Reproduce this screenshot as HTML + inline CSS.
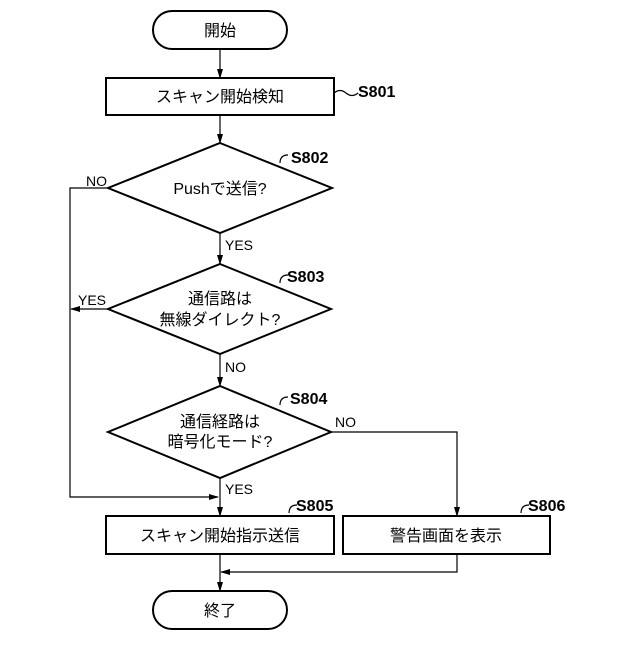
<!DOCTYPE html><html><head><style>body{margin:0;background:#fff}</style></head><body>
<svg width="640" height="640" xmlns="http://www.w3.org/2000/svg" font-family="'Liberation Sans','Noto Sans CJK JP',sans-serif">
<defs><marker id="a" markerWidth="10" markerHeight="10" refX="9" refY="5" orient="auto" markerUnits="userSpaceOnUse"><path d="M0,2 L10,5 L0,8Z" fill="#000"/></marker></defs>
<g fill="none" stroke="#000" stroke-width="2">
<rect x="153" y="11" width="134" height="38" rx="19"/>
<rect x="106" y="78" width="228" height="37"/>
<polygon points="220,143 332,188 220,233 108,188"/>
<polygon points="220,264 331,309 220,354 108,309"/>
<polygon points="220,386 331,432 220,478 108,432"/>
<rect x="106" y="516" width="228" height="38"/>
<rect x="343" y="516" width="207" height="38"/>
<rect x="153" y="591" width="134" height="38" rx="19"/>
</g>
<g fill="none" stroke="#000" stroke-width="1.2">
<line x1="220" y1="49" x2="220" y2="78" marker-end="url(#a)"/>
<line x1="220" y1="115" x2="220" y2="143" marker-end="url(#a)"/>
<line x1="220" y1="233" x2="220" y2="264" marker-end="url(#a)"/>
<line x1="220" y1="354" x2="220" y2="386" marker-end="url(#a)"/>
<line x1="220" y1="478" x2="220" y2="516" marker-end="url(#a)"/>
<polyline points="108,188 70,188 70,497 218,497" marker-end="url(#a)"/>
<line x1="108" y1="309" x2="71" y2="309" marker-end="url(#a)"/>
<polyline points="331,432 457,432 457,516" marker-end="url(#a)"/>
<polyline points="457,554 457,572 221,572" marker-end="url(#a)"/>
<line x1="220" y1="554" x2="220" y2="591" marker-end="url(#a)"/>
<path d="M334,93 q6,-5 12,0 t12,0"/>
<path d="M280,163 q0,-8 8,-8"/>
<path d="M280,283 q0,-8 8,-8"/>
<path d="M280,405 q0,-8 8,-8"/>
<path d="M289,513 q0,-8 8,-8"/>
<path d="M521,513 q0,-8 8,-8"/>
</g>
<g font-size="16" text-anchor="middle" fill="#000">
<text x="220" y="36">開始</text>
<text x="220" y="102">スキャン開始検知</text>
<text x="220" y="194">Pushで送信?</text>
<text x="220" y="304">通信路は</text>
<text x="220" y="325">無線ダイレクト?</text>
<text x="220" y="427">通信経路は</text>
<text x="220" y="447">暗号化モード?</text>
<text x="220" y="541">スキャン開始指示送信</text>
<text x="446" y="541">警告画面を表示</text>
<text x="220" y="616">終了</text>
</g>
<g font-size="14" fill="#000">
<text x="86" y="186">NO</text>
<text x="225" y="250">YES</text>
<text x="78" y="305">YES</text>
<text x="225" y="372">NO</text>
<text x="335" y="427">NO</text>
<text x="225" y="494">YES</text>
</g>
<g font-size="16" font-weight="bold" fill="#000">
<text x="358" y="97">S801</text>
<text x="291" y="163">S802</text>
<text x="287" y="282">S803</text>
<text x="290" y="404">S804</text>
<text x="296" y="511">S805</text>
<text x="528" y="511">S806</text>
</g>
</svg></body></html>
